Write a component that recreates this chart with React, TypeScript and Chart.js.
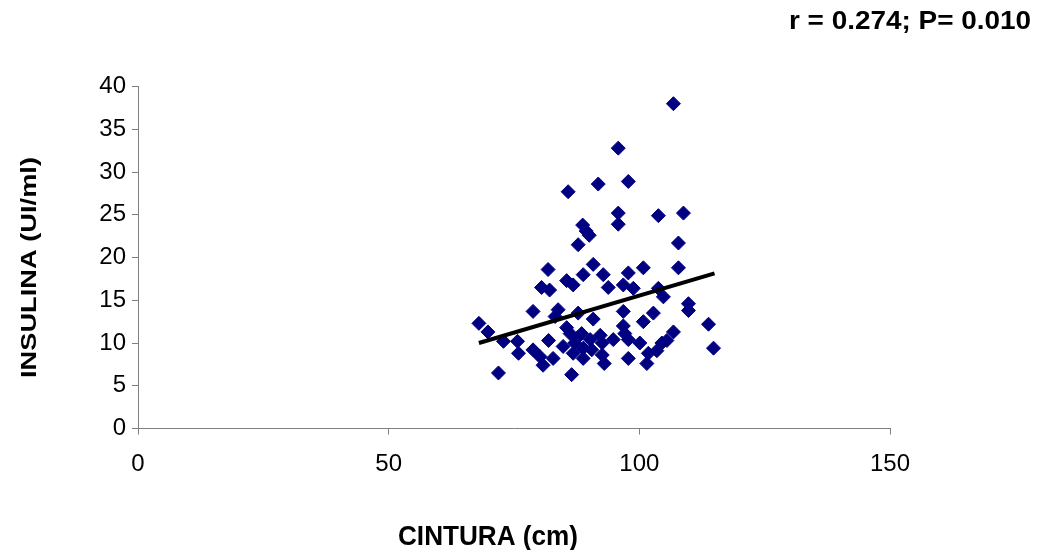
import React, { useEffect, useRef } from "react";
import { Chart, registerables } from "chart.js";

Chart.register(...registerables);

// CINTURA (cm)
const cintura: number[] = [
  106.8, 95.8, 85.8, 91.8, 97.8,
  95.8, 103.8, 108.8, 95.8, 88.7, 89.4, 90.0, 87.8, 107.8, 81.8,
  90.8, 88.8, 92.8, 100.8, 107.8, 97.8, 96.8, 98.8, 93.8, 85.5,
  86.8, 80.5, 82.1, 103.8, 104.8,
  109.8, 109.8, 78.8, 83.8, 83.2, 87.8, 90.8, 96.8, 102.8, 100.8,
  96.8, 106.8, 113.8, 114.8,
  68.0, 69.8, 72.9, 75.7, 75.9, 71.9,
  81.9, 78.8, 80.2, 80.8, 82.8, 84.8, 86.2, 85.5, 88.5, 87.1,
  86.8, 88.8, 90.5, 90.2, 86.5,
  94.8, 97.1, 97.8, 100.1, 92.2, 92.6, 92.6, 93.0, 97.8, 101.8,
  101.5, 103.5, 104.5, 105.5,
  87.6, 88.8,
];

// INSULINA (UI/ml)
const insulina: number[] = [
  38.0, 32.8, 27.7, 28.6, 28.9,
  25.2, 24.9, 25.2, 23.9, 23.8, 23.1, 22.6, 21.5, 21.7, 18.6,
  19.2, 18.0, 18.0, 18.8, 18.8, 18.2, 16.8, 16.4, 16.5, 17.3,
  16.8, 16.5, 16.2, 16.4, 15.4,
  14.6, 13.8, 13.7, 13.9, 13.1, 13.5, 12.8, 13.7, 13.5, 12.5,
  12.0, 11.3, 12.2, 9.4,
  12.3, 11.3, 10.2, 10.2, 8.8, 6.5,
  10.3, 9.2, 8.4, 7.4, 8.2, 9.6, 11.1, 11.8, 11.1, 10.0,
  8.8, 8.2, 9.2, 10.4, 6.3,
  10.4, 11.1, 10.4, 10.0, 10.9, 10.0, 8.6, 7.6, 8.2, 8.8,
  7.6, 9.1, 10.0, 10.3,
  10.6, 9.4,
];

// Trend line end points
const trendX: number[] = [68, 115];
const trendY: number[] = [10.0, 18.15];

const xMin = 0;
const xMax = 150;
const xStep = 50;
const yMin = 0;
const yMax = 40;
const yStep = 5;

const annotationText = "r = 0.274; P= 0.010";
const xTitle = "CINTURA (cm)";
const yTitle = "INSULINA (UI/ml)";

function drawFitted(
  ctx: CanvasRenderingContext2D,
  text: string,
  font: string,
  cx: number,
  cy: number,
  width: number,
  rotate: boolean
) {
  ctx.save();
  ctx.font = font;
  const w = ctx.measureText(text).width;
  ctx.translate(cx, cy);
  if (rotate) ctx.rotate(-Math.PI / 2);
  ctx.scale(width / w, 1);
  ctx.textAlign = "center";
  ctx.textBaseline = "middle";
  ctx.fillStyle = "#000000";
  ctx.fillText(text, 0, 0);
  ctx.restore();
}

const textPlugin = {
  id: "textPlugin",
  afterDraw(chart: any) {
    const ctx = chart.ctx as CanvasRenderingContext2D;
    drawFitted(ctx, annotationText, "bold 26px 'Liberation Sans Narrow', 'Liberation Sans', sans-serif", 910, 22, 242, false);
    drawFitted(ctx, xTitle, "bold 28px 'Liberation Sans', Arial, sans-serif", 488, 537, 180, false);
    drawFitted(ctx, yTitle, "bold 22px 'Liberation Sans', Arial, sans-serif", 30, 267.5, 221, true);
  },
};

export default function App() {
  const canvasRef = useRef<HTMLCanvasElement | null>(null);

  useEffect(() => {
    if (!canvasRef.current) return;
    const points = cintura.map((x, i) => ({ x, y: insulina[i] }));
    const trend = trendX.map((x, i) => ({ x, y: trendY[i] }));
    const axisColor = "#808080";
    const tickFont = { family: "'Liberation Sans', Arial, sans-serif", size: 24 };

    const chart = new Chart(canvasRef.current, {
      type: "scatter",
      data: {
        datasets: [
          {
            label: "Tendencia",
            data: trend,
            showLine: true,
            borderColor: "#000000",
            borderWidth: 4,
            pointRadius: 0,
            order: 0,
          } as any,
          {
            label: "INSULINA",
            data: points,
            pointStyle: "rectRot",
            pointRadius: 7,
            backgroundColor: "#000080",
            borderColor: "#000080",
            borderWidth: 1,
            order: 1,
          } as any,
        ],
      },
      options: {
        animation: false,
        responsive: false,
        devicePixelRatio: 1,
        layout: { padding: { left: 0, right: 147, top: 86.6, bottom: 0 } },
        plugins: {
          legend: { display: false },
          tooltip: { enabled: false },
        },
        scales: {
          x: {
            type: "linear",
            min: xMin,
            max: xMax,
            ticks: { stepSize: xStep, color: "#000000", font: tickFont, padding: 15, maxRotation: 0 },
            grid: { drawOnChartArea: false, drawTicks: true, tickLength: 6, color: axisColor },
            border: { display: true, color: axisColor, width: 1 },
            afterFit: (s: any) => {
              s.height = 121.5;
            },
          },
          y: {
            type: "linear",
            min: yMin,
            max: yMax,
            ticks: { stepSize: yStep, color: "#000000", font: tickFont, padding: 6 },
            grid: { drawOnChartArea: false, drawTicks: true, tickLength: 6, color: axisColor },
            border: { display: true, color: axisColor, width: 1 },
            afterFit: (s: any) => {
              s.width = 138;
            },
          },
        },
      },
      plugins: [textPlugin],
    });
    return () => chart.destroy();
  }, []);

  return (
    <div style={{ position: "absolute", left: 0, top: 0, width: 1037, height: 550, background: "#ffffff" }}>
      <canvas ref={canvasRef} width={1037} height={550} />
    </div>
  );
}
